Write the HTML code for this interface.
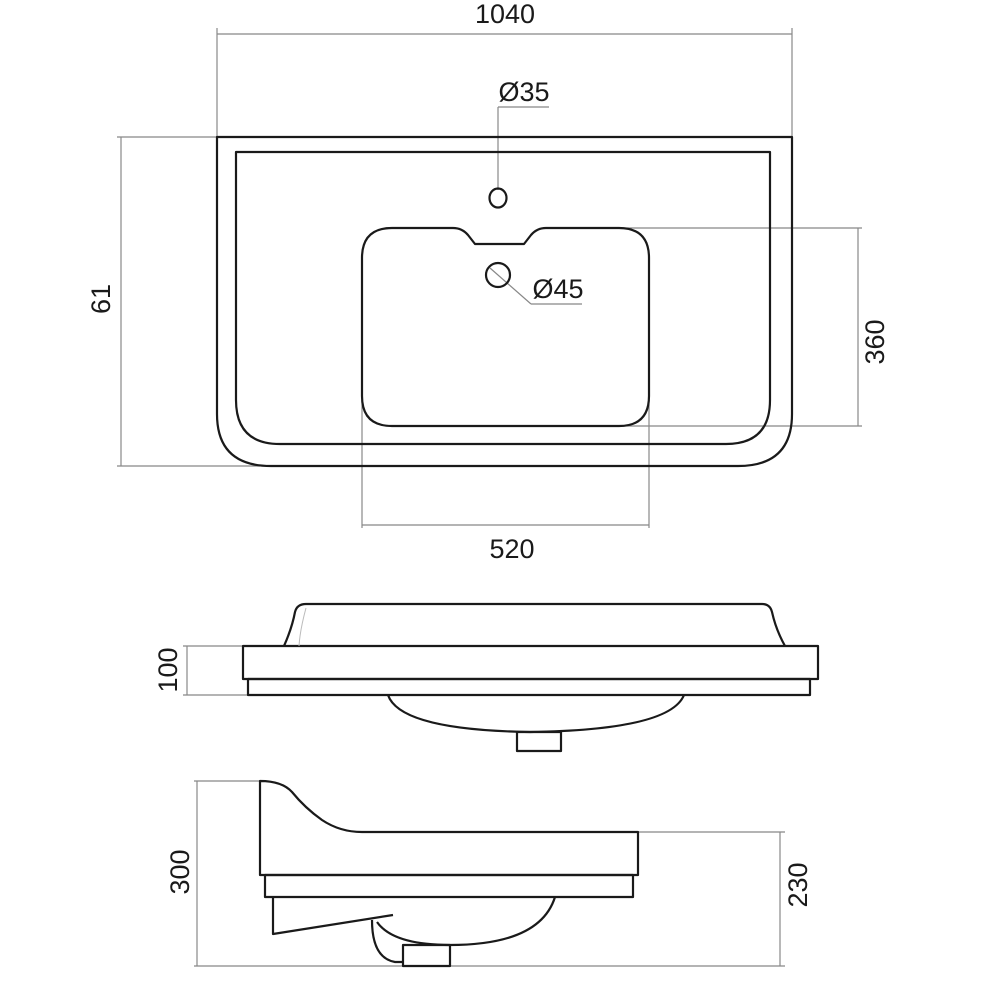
<!DOCTYPE html>
<html><head><meta charset="utf-8"><style>html,body{margin:0;padding:0;background:#fff}svg{display:block}</style></head>
<body>
<svg width="990" height="990" viewBox="0 0 990 990" xmlns="http://www.w3.org/2000/svg" font-family="Liberation Sans, sans-serif" font-size="27" fill="none">
<g stroke="#888" stroke-width="1.2">
 <line x1="217" y1="28" x2="217" y2="137"/><line x1="792" y1="28" x2="792" y2="137"/><line x1="217" y1="34" x2="792" y2="34"/>
 <line x1="117" y1="137" x2="217" y2="137"/><line x1="117" y1="466" x2="260" y2="466"/><line x1="121" y1="137" x2="121" y2="466"/>
 <line x1="620" y1="228" x2="862" y2="228"/><line x1="620" y1="426" x2="862" y2="426"/><line x1="858" y1="228" x2="858" y2="426"/>
 <line x1="362" y1="400" x2="362" y2="528"/><line x1="649" y1="400" x2="649" y2="528"/><line x1="362" y1="525" x2="649" y2="525"/>
 <line x1="498" y1="107" x2="549" y2="107"/><line x1="498" y1="107" x2="498" y2="190"/>
 <line x1="490" y1="268" x2="531" y2="304"/><line x1="531" y1="304" x2="582" y2="304"/>
 <line x1="183" y1="646" x2="243" y2="646"/><line x1="183" y1="695" x2="248" y2="695"/><line x1="187" y1="646" x2="187" y2="695"/>
 <line x1="194" y1="781" x2="260" y2="781"/><line x1="194" y1="966" x2="403" y2="966"/><line x1="197" y1="781" x2="197" y2="966"/>
 <line x1="638" y1="832" x2="785" y2="832"/><line x1="450" y1="966" x2="785" y2="966"/><line x1="780" y1="832" x2="780" y2="966"/>
</g>
<g stroke="#1a1a1a" stroke-width="2.2" stroke-linejoin="round">
 <path d="M217 137 H792 V414 Q792 466 738 466 H271 Q217 466 217 414 Z"/>
 <path d="M236 152 H770 V400 Q770 444 726 444 H280 Q236 444 236 400 Z"/>
 <path d="M392 228 H453 Q462 228 468 235 L475 244 H524 L531 235 Q537 228 546 228 H619 Q649 228 649 258 V396 Q649 426 619 426 H392 Q362 426 362 396 V258 Q362 228 392 228 Z"/>
 <ellipse cx="498" cy="198" rx="8.5" ry="9.5"/>
 <circle cx="498" cy="275" r="12"/>
 <path d="M284 646 Q292 628 295 612 Q297 604 306 604 H762 Q770 604 772 612 Q776 630 785 646"/>
 <rect x="243" y="646" width="575" height="33"/>
 <rect x="248" y="679" width="562" height="16"/>
 <path d="M388 695 Q400 730 530 732 Q670 730 684 695"/>
 <rect x="517" y="732" width="44" height="19"/>
 <path d="M260 832 V781 Q282 781 292 792 Q305 808 322 820 Q340 832 362 832 H638 V875 H260 Z"/>
 <rect x="265" y="875" width="368" height="22"/>
 <path d="M273 897 V934 L393 915"/>
 <path d="M555 897 Q540 945 450 945 Q393 945 377 922"/>
 <path d="M372 920 Q372 958 395 962 H403"/>
 <rect x="403" y="945" width="47" height="21"/>
</g>
<g stroke="#bbb" stroke-width="1"><path d="M306 608 Q300 630 299 646"/></g>
<g fill="#1a1a1a">
 <text x="505" y="23" text-anchor="middle">1040</text>
 <text x="524" y="101" text-anchor="middle">Ø35</text>
 <text x="558" y="298" text-anchor="middle">Ø45</text>
 <text x="512" y="558" text-anchor="middle">520</text>
 <text transform="translate(110 299) rotate(-90)" text-anchor="middle">61</text>
 <text transform="translate(884 342) rotate(-90)" text-anchor="middle">360</text>
 <text transform="translate(177 670) rotate(-90)" text-anchor="middle">100</text>
 <text transform="translate(189 872) rotate(-90)" text-anchor="middle">300</text>
 <text transform="translate(807 885) rotate(-90)" text-anchor="middle">230</text>
</g>
</svg>
</body></html>
